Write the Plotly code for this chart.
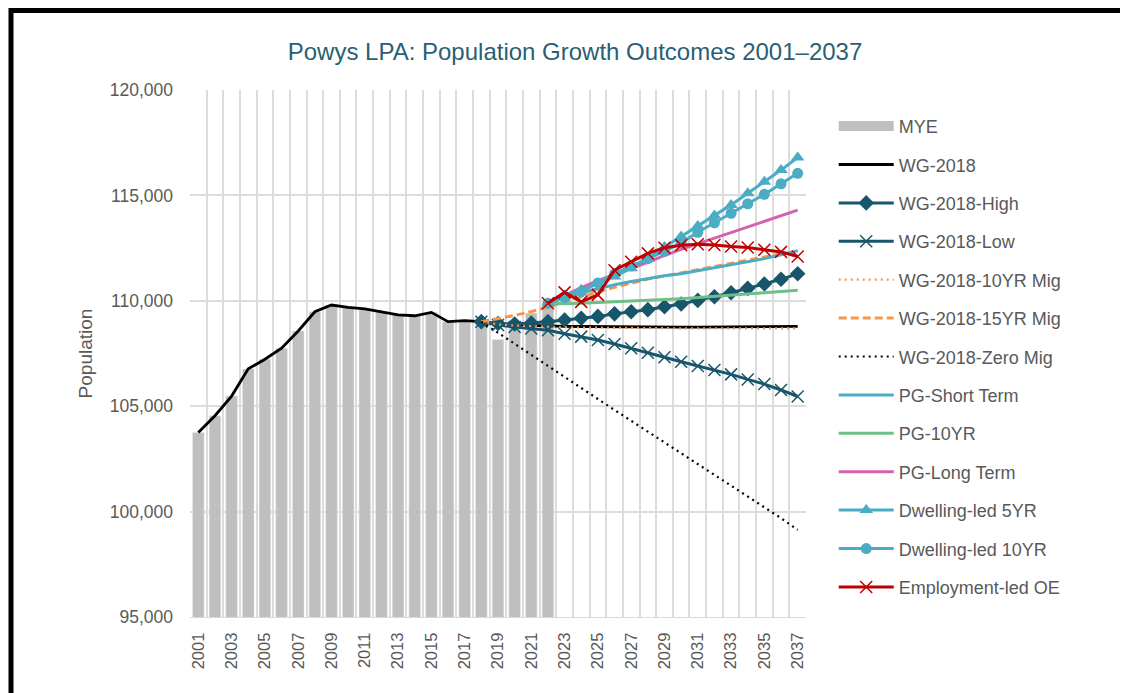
import plotly.graph_objects as go

# categories
years = list(range(2001, 2038))
mye_years = list(range(2001, 2023))
wg_years = list(range(2018, 2038))
alt_years = list(range(2022, 2038))

# mid-year estimates (bars)
mye = [103750, 104550, 105480, 106770, 107230, 107750, 108570, 109480, 109800, 109690,
       109620, 109480, 109330, 109290, 109450, 109010, 109060, 109010, 108170, 108720,
       109420, 109880]

# WG-2018 principal (history + projection)
wg_2018 = [103750, 104550, 105480, 106770, 107230, 107750, 108570, 109480, 109800, 109690,
           109620, 109480, 109330, 109290, 109450, 109010, 109060, 109010, 108900, 108860,
           108830, 108810, 108790, 108780, 108770, 108760, 108750, 108750, 108750, 108750,
           108750, 108760, 108760, 108770, 108770, 108780, 108790]

wg_high = [109010, 108920, 108900, 108940, 109010, 109090, 109170, 109260, 109380, 109480,
           109580, 109720, 109850, 110020, 110190, 110380, 110590, 110800, 111020, 111280]
wg_low = [109010, 108850, 108760, 108690, 108600, 108440, 108300, 108140, 107950, 107750,
          107540, 107320, 107110, 106910, 106720, 106510, 106270, 106050, 105770, 105460]
wg_10yr = [109010, 108880, 108830, 108790, 108760, 108740, 108730, 108720, 108710, 108700,
           108700, 108690, 108690, 108690, 108690, 108690, 108690, 108690, 108690, 108690]
wg_15yr = [109010, 109150, 109310, 109490, 109700, 109950, 110200, 110420, 110640, 110850,
           111030, 111180, 111330, 111480, 111640, 111800, 111960, 112100, 112230, 112330]
wg_zero = [109010, 108480, 107950, 107430, 106900, 106380, 105860, 105340, 104820, 104300,
           103790, 103270, 102760, 102250, 101740, 101230, 100720, 100200, 99690, 99130]

pg_short = [109880, 110150, 110380, 110580, 110760, 110920, 111060, 111190, 111280, 111420,
            111560, 111700, 111850, 112000, 112180, 112380]
pg_10yr = [109880, 109860, 109880, 109910, 109940, 109980, 110020, 110060, 110100, 110150,
           110200, 110260, 110320, 110380, 110440, 110500]
pg_long = [109880, 110260, 110620, 110960, 111260, 111540, 111820, 112150, 112440, 112710,
           112980, 113250, 113520, 113780, 114040, 114300]
dw_5yr = [109880, 110250, 110520, 110800, 111150, 111550, 112000, 112550, 113050, 113550,
          114050, 114550, 115100, 115650, 116200, 116800]
dw_10yr = [109880, 110150, 110430, 110850, 111280, 111650, 112000, 112350, 112750, 113250,
           113700, 114150, 114600, 115050, 115550, 116050]
emp_oe = [109880, 110400, 109950, 110280, 111450, 111850, 112250, 112520, 112640, 112680,
          112650, 112580, 112530, 112420, 112320, 112100]

TEAL_DARK = "#17566B"
TEAL = "#4BACC6"
ORANGE = "#F79646"
GREEN = "#6FBF88"
PINK = "#D462AC"
RED = "#C00000"
GREY_TXT = "#595959"

fig = go.Figure()

fig.add_trace(go.Bar(x=mye_years, y=mye, name="MYE", marker_color="#BFBFBF",
                     width=0.7, showlegend=False))
# legend swatch for the bars (wide grey block like the original)
fig.add_trace(go.Scatter(x=[None], y=[None], mode="lines", name="MYE",
                         line=dict(color="#BFBFBF", width=10), legendgroup="g0"))

series = [
    ("WG-2018", years, wg_2018, dict(color="black", width=2.8), None),
    ("WG-2018-High", wg_years, wg_high, dict(color=TEAL_DARK, width=3),
     dict(symbol="diamond", size=12, color=TEAL_DARK)),
    ("WG-2018-Low", wg_years, wg_low, dict(color=TEAL_DARK, width=3),
     dict(symbol="x-thin", size=12, line=dict(color=TEAL_DARK, width=1.5))),
    ("WG-2018-10YR Mig", wg_years, wg_10yr,
     dict(color=ORANGE, width=2.2, dash="2px,4px"), None),
    ("WG-2018-15YR Mig", wg_years, wg_15yr,
     dict(color=ORANGE, width=3, dash="8px,4px"), None),
    ("WG-2018-Zero Mig", wg_years, wg_zero,
     dict(color="black", width=2.2, dash="2px,4px"), None),
    ("PG-Short Term", alt_years, pg_short, dict(color=TEAL, width=3), None),
    ("PG-10YR", alt_years, pg_10yr, dict(color=GREEN, width=3), None),
    ("PG-Long Term", alt_years, pg_long, dict(color=PINK, width=3), None),
    ("Dwelling-led 5YR", alt_years, dw_5yr, dict(color=TEAL, width=3),
     dict(symbol="triangle-up", size=12, color=TEAL)),
    ("Dwelling-led 10YR", alt_years, dw_10yr, dict(color=TEAL, width=3),
     dict(symbol="circle", size=11, color=TEAL)),
    ("Employment-led OE", alt_years, emp_oe, dict(color=RED, width=3),
     dict(symbol="x-thin", size=12, line=dict(color=RED, width=1.5))),
]

for i, (name, xs, ys, line, marker) in enumerate(series, start=1):
    fig.add_trace(go.Scatter(
        x=xs, y=ys, name=name, legendgroup=f"g{i}",
        mode="lines+markers" if marker else "lines",
        line=line, marker=marker,
    ))

# page body has an 8px margin, so the figure is 8px smaller and margins shifted
fig.update_layout(
    width=1120, height=685,
    margin=dict(l=182, r=322, t=82, b=76),
    paper_bgcolor="white", plot_bgcolor="white",
    font=dict(family="Liberation Sans, Arial, sans-serif", color=GREY_TXT, size=15),
    title=dict(text="Powys LPA: Population Growth Outcomes 2001\u20132037",
               x=(575 - 8) / 1120, xanchor="center", y=1 - 44 / 685, yanchor="middle",
               yref="container", font=dict(size=24, color="#2A5F73")),
    bargap=0.3,
    legend=dict(x=1.045, xanchor="left", y=0.966, yanchor="top",
                font=dict(size=18, color=GREY_TXT), itemwidth=55,
                tracegroupgap=12, traceorder="grouped"),
    shapes=[dict(type="path", xref="paper", yref="paper",
                 path="M -0.2906,-0.2 L -0.2906,1.1509 L 1.6,1.1509",
                 line=dict(color="black", width=5))],
)

fig.update_xaxes(
    range=[2000.5, 2037.5], tickmode="linear", tick0=2001, dtick=2,
    tickangle=-90, showgrid=False, zeroline=False,
    showline=True, linecolor="#D9D9D9", linewidth=1,
    tickfont=dict(size=16.5, color=GREY_TXT), ticklabelstandoff=8,
    minor=dict(tick0=2000.5, dtick=1, showgrid=True, gridcolor="#DCDCDC", gridwidth=1.5),
)
fig.update_yaxes(
    range=[95000, 120000], dtick=5000, tickformat=",",
    showgrid=True, gridcolor="#DCDCDC", gridwidth=1.5, zeroline=False,
    tickfont=dict(size=17.5, color=GREY_TXT), ticklabelstandoff=16,
    title=dict(text="Population", font=dict(size=19, color=GREY_TXT), standoff=12),
)

fig.write_html("out.html")
